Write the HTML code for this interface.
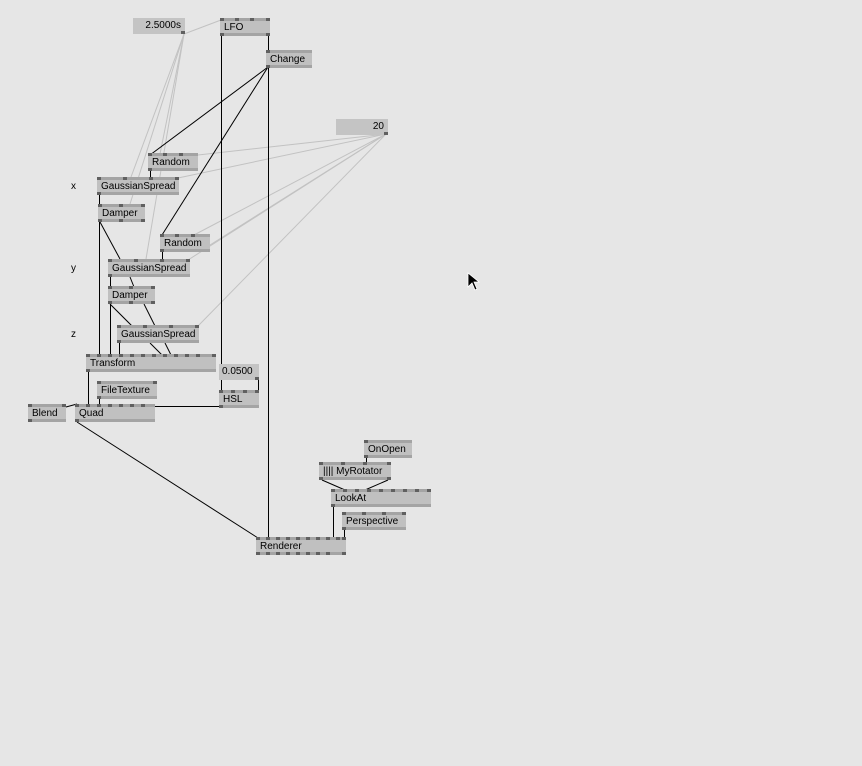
<!DOCTYPE html>
<html><head><meta charset="utf-8"><style>
body{margin:0;width:862px;height:766px;background:#e6e6e6;position:relative;overflow:hidden;font-family:"Liberation Sans",sans-serif;font-size:10px;color:#000}
.n{position:absolute;height:18px;background:#c0c0c0;box-sizing:border-box;border-top:3px solid #a4a4a4;border-bottom:3px solid #a4a4a4;white-space:nowrap}
.n span{position:absolute;left:4px;top:0;line-height:13px}
.n::before{content:"";position:absolute;left:0;top:-3px;width:4px;height:3px;background:#606060}
.n::after{content:"";position:absolute;left:0;bottom:-3px;width:4px;height:3px;background:#606060}
.n i{position:absolute;width:4px;height:3px;background:#606060;top:-3px}
.n b{position:absolute;width:4px;height:3px;background:#606060;bottom:-3px}
.io{position:absolute;height:16px;background:#c4c4c4;line-height:16px;text-align:right;box-sizing:border-box;padding-right:4px;white-space:nowrap}
.io i{position:absolute;right:0;width:4px;height:3px;background:#606060;bottom:0}
.l{position:absolute;font-size:10px}
svg{position:absolute;left:0;top:0}
</style></head><body>
<svg width="862" height="766">
<g stroke="#c2c2c2" stroke-width="1" fill="none">
<line x1="184" y1="34" x2="221" y2="20"/>
<line x1="184" y1="34" x2="131" y2="177"/>
<line x1="184" y1="34" x2="160" y2="154"/>
<line x1="184" y1="34" x2="130" y2="204"/>
<line x1="184" y1="34" x2="146" y2="259"/>
<line x1="386" y1="134" x2="198" y2="155"/>
<line x1="386" y1="134" x2="178" y2="178"/>
<line x1="386" y1="134" x2="194" y2="235"/>
<line x1="386" y1="134" x2="210" y2="245"/>
<line x1="386" y1="134" x2="188" y2="260"/>
<line x1="386" y1="134" x2="198" y2="326"/>
</g>
<g stroke="#000" stroke-width="1" fill="none">
<line x1="221.5" y1="36" x2="221.5" y2="392"/>
<line x1="268.5" y1="36" x2="268.5" y2="538"/>
<line x1="268" y1="67" x2="150" y2="155"/>
<line x1="268" y1="67" x2="162" y2="235"/>
<line x1="77" y1="422" x2="258" y2="538"/>
<line x1="155" y1="406.5" x2="220" y2="406.5"/>
<line x1="258.5" y1="380" x2="258.5" y2="392"/>
<line x1="99.5" y1="222" x2="99.5" y2="355"/>
<line x1="100" y1="222" x2="120" y2="259"/>
<line x1="99.5" y1="195" x2="99.5" y2="205"/>
<line x1="150.5" y1="171" x2="150.5" y2="178"/>
<line x1="162.5" y1="252" x2="162.5" y2="260"/>
<line x1="110.5" y1="277" x2="110.5" y2="287"/>
<line x1="130" y1="277" x2="134" y2="287"/>
<line x1="110.5" y1="304" x2="110.5" y2="355"/>
<line x1="110" y1="304" x2="132" y2="326"/>
<line x1="144" y1="304" x2="155" y2="326"/>
<line x1="119.5" y1="343" x2="119.5" y2="355"/>
<line x1="150" y1="343" x2="162" y2="355"/>
<line x1="165" y1="343" x2="171" y2="355"/>
<line x1="88.5" y1="372" x2="88.5" y2="405"/>
<line x1="99.5" y1="399" x2="99.5" y2="405"/>
<line x1="66" y1="407" x2="77" y2="404"/>
<line x1="322" y1="480" x2="345" y2="490"/>
<line x1="388" y1="480" x2="365" y2="490"/>
<line x1="366.5" y1="458" x2="366.5" y2="463"/>
<line x1="333.5" y1="507" x2="333.5" y2="538"/>
<line x1="344.5" y1="530" x2="344.5" y2="538"/>
</g>
</svg>
<div class="io" style="left:133px;top:18px;width:52px">2.5000s<i></i></div>
<div class="io" style="left:336px;top:119px;width:52px">20<i></i></div>
<div class="io" style="left:219px;top:364px;width:40px;text-align:left;padding-left:3px">0.0500<i></i></div>
<div class="n" style="left:220px;top:18px;width:50px"><span>LFO</span><i style="left:15px"></i><i style="left:30px"></i><i style="right:0"></i><b style="right:0"></b></div>
<div class="n" style="left:266px;top:50px;width:46px"><span>Change</span></div>
<div class="n" style="left:148px;top:153px;width:50px"><span>Random</span><i style="left:15px"></i><i style="left:31px"></i></div>
<div class="n" style="left:97px;top:177px;width:82px"><span>GaussianSpread</span><i style="left:26px"></i><i style="left:52px"></i><i style="right:0"></i></div>
<div class="n" style="left:98px;top:204px;width:47px"><span>Damper</span><i style="left:21px"></i><i style="right:0"></i><b style="left:21px"></b><b style="right:0"></b></div>
<div class="n" style="left:160px;top:234px;width:50px"><span>Random</span><i style="left:15px"></i><i style="left:31px"></i></div>
<div class="n" style="left:108px;top:259px;width:82px"><span>GaussianSpread</span><i style="left:26px"></i><i style="left:52px"></i><i style="right:0"></i></div>
<div class="n" style="left:108px;top:286px;width:47px"><span>Damper</span><i style="left:21px"></i><i style="right:0"></i><b style="left:21px"></b><b style="right:0"></b></div>
<div class="n" style="left:117px;top:325px;width:82px"><span>GaussianSpread</span><i style="left:26px"></i><i style="left:52px"></i><i style="right:0"></i></div>
<div class="n" style="left:86px;top:354px;width:130px"><span>Transform</span><i style="left:11px"></i><i style="left:22px"></i><i style="left:33px"></i><i style="left:44px"></i><i style="left:55px"></i><i style="left:66px"></i><i style="left:77px"></i><i style="left:88px"></i><i style="left:99px"></i><i style="left:110px"></i><i style="right:0"></i></div>
<div class="n" style="left:97px;top:381px;width:60px"><span>FileTexture</span><i style="right:0"></i></div>
<div class="n" style="left:219px;top:390px;width:40px"><span>HSL</span><i style="left:12px"></i><i style="left:24px"></i><i style="right:0"></i></div>
<div class="n" style="left:28px;top:404px;width:38px"><span>Blend</span><i style="right:0"></i></div>
<div class="n" style="left:75px;top:404px;width:80px"><span>Quad</span><i style="left:11px"></i><i style="left:22px"></i><i style="left:33px"></i><i style="left:44px"></i><i style="left:55px"></i><i style="left:66px"></i></div>
<div class="n" style="left:364px;top:440px;width:48px"><span>OnOpen</span></div>
<div class="n" style="left:319px;top:462px;width:72px"><span>|||| MyRotator</span><i style="left:22px"></i><i style="left:44px"></i><i style="right:0"></i><b style="right:0"></b></div>
<div class="n" style="left:331px;top:489px;width:100px"><span>LookAt</span><i style="left:12px"></i><i style="left:24px"></i><i style="left:36px"></i><i style="left:48px"></i><i style="left:60px"></i><i style="left:72px"></i><i style="left:84px"></i><i style="right:0"></i></div>
<div class="n" style="left:342px;top:512px;width:64px"><span>Perspective</span><i style="left:20px"></i><i style="left:40px"></i><i style="right:0"></i></div>
<div class="n" style="left:256px;top:537px;width:90px"><span>Renderer</span><i style="left:10px"></i><i style="left:20px"></i><i style="left:30px"></i><i style="left:40px"></i><i style="left:50px"></i><i style="left:60px"></i><i style="left:70px"></i><i style="left:80px"></i><i style="right:0"></i><b style="left:10px"></b><b style="left:20px"></b><b style="left:30px"></b><b style="left:40px"></b><b style="left:50px"></b><b style="left:60px"></b><b style="left:70px"></b><b style="right:0"></b></div>
<div class="l" style="left:71px;top:181px">x</div>
<div class="l" style="left:71px;top:263px">y</div>
<div class="l" style="left:71px;top:329px">z</div>
<svg width="862" height="766" style="pointer-events:none"><path d="M468 273 L468 287 L472 283 L475 290 L477 289 L474 282 L479 282 Z" fill="#000" stroke="#fff" stroke-width="0.8"/></svg>
</body></html>
